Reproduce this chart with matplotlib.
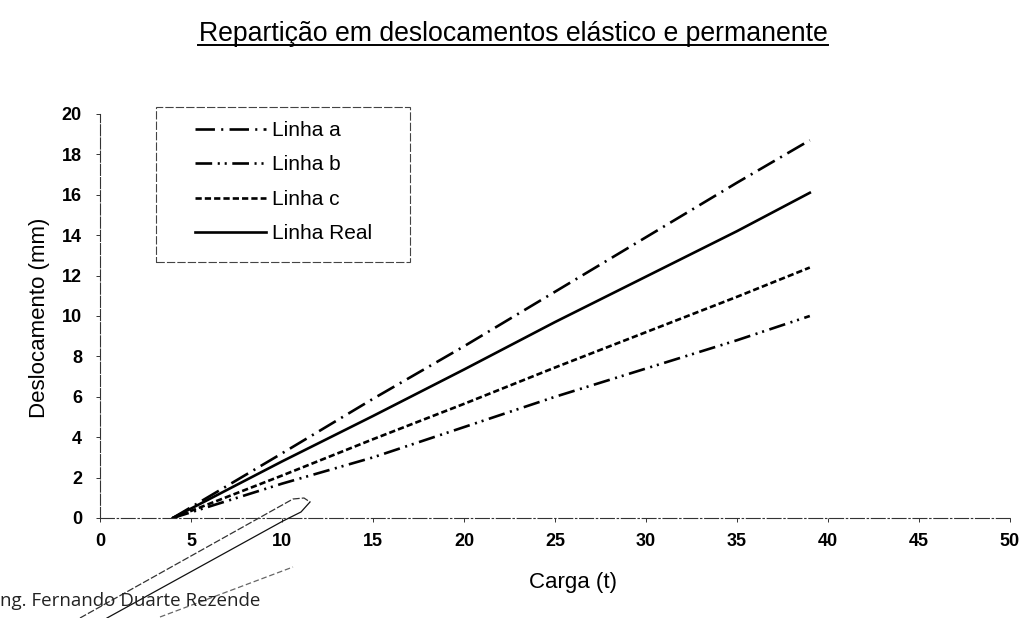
import matplotlib
matplotlib.use('Agg')
import matplotlib.pyplot as plt
from matplotlib.lines import Line2D
from matplotlib.patches import Rectangle

plt.rcParams['font.family'] = ['Liberation Sans', 'DejaVu Sans']
plt.rcParams['lines.scale_dashes'] = False

# values
carga = [4, 10, 15, 20, 25, 30, 35, 39]
linha_a = [0, 3.2, 5.9, 8.5, 11.2, 13.9, 16.6, 18.7]
linha_b = [0, 1.7, 3.0, 4.5, 6.0, 7.4, 8.8, 10.0]
linha_c = [0, 2.1, 3.9, 5.65, 7.45, 9.2, 10.95, 12.4]
linha_real = [0, 2.8, 5.05, 7.35, 9.7, 11.95, 14.2, 16.1]

x_ticks = list(range(0, 51, 5))
y_ticks = list(range(0, 21, 2))

title = 'Repartição em deslocamentos elástico e permanente'
footer = 'ng. Fernando Duarte Rezende'

# pen strokes on the scanned page (figure pixels, y from top)
stroke_upper = [(80, 618), (293, 499), (304, 498), (310, 502)]
stroke_lower = [(310, 502), (301, 512), (283, 521), (107, 618)]
stroke_light = [(160, 617), (293, 567)]

W, H = 1032, 618
fig = plt.figure(figsize=(W / 100, H / 100), dpi=100)
ax = fig.add_axes([100 / W, 100 / H, 910 / W, 404 / H])

lw = 1.9
ax.plot(carga, linha_a, color='black', lw=lw, dashes=(14, 4.5, 1.5, 4.5), label='Linha a')
ax.plot(carga, linha_b, color='black', lw=lw, dashes=(12, 4, 1.5, 3.5, 1.5, 4), label='Linha b')
ax.plot(carga, linha_c, color='black', lw=lw, dashes=(4.5, 2.2), label='Linha c')
ax.plot(carga, linha_real, color='black', lw=lw, label='Linha Real')

ax.set_xlim(0, 50)
ax.set_ylim(0, 20)
ax.set_xticks(x_ticks)
ax.set_yticks(y_ticks)
for lab in ax.get_xticklabels() + ax.get_yticklabels():
    lab.set_fontweight('bold')
ax.tick_params(axis='both', labelsize=13, length=3, width=0.7, color='#333333')
ax.tick_params(axis='x', pad=8)
ax.tick_params(axis='y', pad=10)

for key in 'right', 'top':
    ax.spines[key].set_visible(False)
for key in 'left', 'bottom':
    ax.spines[key].set_linewidth(0.8)
    ax.spines[key].set_color('#333333')
ax.spines['bottom'].set_linestyle((0, (10, 2, 1, 2)))
ax.spines['left'].set_linestyle((0, (8, 1.5)))

ax.set_xlabel('Carga (t)', fontsize=16)
ax.xaxis.set_label_coords(473 / 910, -54 / 404)
ax.set_ylabel('Deslocamento (mm)', fontsize=16)
ax.yaxis.set_label_coords(-50 / 910, 200 / 404)

# legend box
ax.add_patch(Rectangle((56 / 910, (518 - 262) / 404), 254 / 910, 155 / 404,
                       transform=ax.transAxes, fill=False, clip_on=False,
                       edgecolor='#444444', lw=0.8, linestyle=(0, (6, 1.5))))
ax.legend(loc='upper left', bbox_to_anchor=(95 / 910, (518 - 121) / 404),
          frameon=False, fontsize=15, handlelength=3.4, handletextpad=0.3,
          labelspacing=0.74, borderpad=0, borderaxespad=0)

fig.text(513 / W, 1 - 41 / H, title, fontsize=19.2, ha='center', va='baseline')
fig.add_artist(Line2D([198 / W, 828 / W], [1 - 45 / H, 1 - 45 / H],
                      transform=fig.transFigure, color='black', lw=1.4))

fig.text(0, 1 - 606 / H, footer, fontsize=13.5, family=['Open Sans', 'DejaVu Sans'],
         ha='left', va='baseline', color='#222222')

for stroke, ls, c in [(stroke_upper, (0, (5, 1.5)), '#333333'),
                      (stroke_lower, '-', '#111111'),
                      (stroke_light, (0, (4, 2)), '#666666')]:
    xs = [p[0] / W for p in stroke]
    ys = [1 - p[1] / H for p in stroke]
    fig.add_artist(Line2D(xs, ys, transform=fig.transFigure, color=c, lw=0.9, linestyle=ls))

fig.savefig('out.png', dpi=100, facecolor='white')
